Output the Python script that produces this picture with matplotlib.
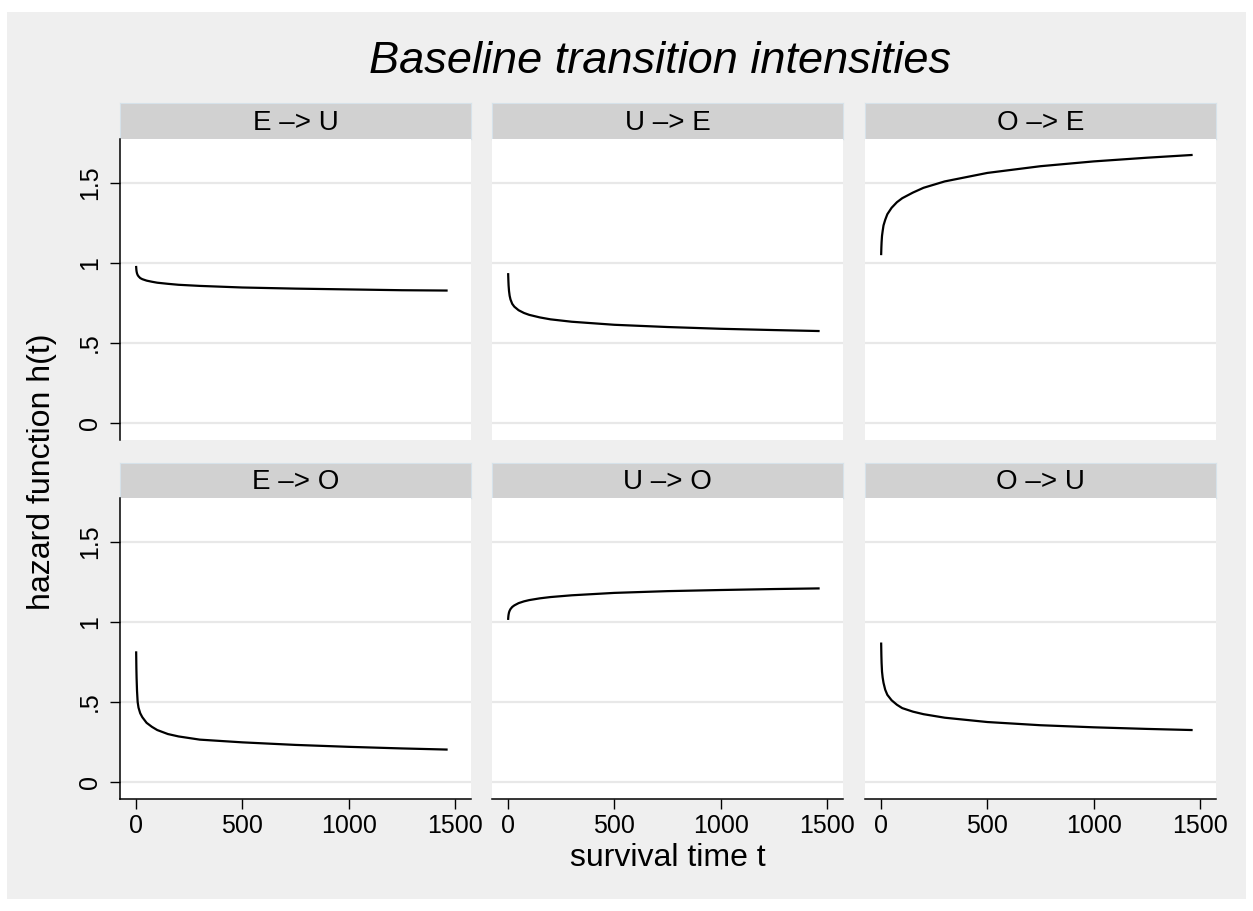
import matplotlib
matplotlib.use('Agg')
import matplotlib.pyplot as plt
from matplotlib.patches import Rectangle

plt.rcParams['font.family'] = ['Liberation Sans', 'DejaVu Sans']

# values
t_values = [1, 2, 3, 5, 8, 12, 20, 30, 50, 75, 100, 150, 200, 300, 500, 750, 1000, 1250, 1460]

h_e_u = [0.975, 0.957, 0.947, 0.935, 0.925, 0.917, 0.906, 0.899, 0.89, 0.883, 0.877, 0.870,
         0.864, 0.857, 0.847, 0.840, 0.835, 0.830, 0.828]
h_u_e = [0.93, 0.89, 0.86, 0.825, 0.795, 0.772, 0.745, 0.727, 0.705, 0.688, 0.676, 0.660,
         0.648, 0.633, 0.614, 0.600, 0.589, 0.581, 0.575]
h_o_e = [1.056, 1.10, 1.13, 1.17, 1.20, 1.235, 1.27, 1.305, 1.345, 1.38, 1.405, 1.44,
         1.47, 1.51, 1.563, 1.605, 1.635, 1.658, 1.675]
h_e_o = [0.81, 0.71, 0.65, 0.57, 0.50, 0.465, 0.43, 0.405, 0.37, 0.345, 0.325, 0.30,
         0.285, 0.265, 0.248, 0.232, 0.22, 0.21, 0.203]
h_u_o = [1.02, 1.037, 1.047, 1.06, 1.071, 1.081, 1.094, 1.104, 1.118, 1.129, 1.137, 1.148,
         1.156, 1.167, 1.182, 1.193, 1.20, 1.206, 1.21]
h_o_u = [0.865, 0.79, 0.744, 0.69, 0.653, 0.62, 0.577, 0.545, 0.511, 0.483, 0.462, 0.44,
         0.424, 0.402, 0.375, 0.355, 0.342, 0.332, 0.325]

panel_names = ['E \u2013> U', 'U \u2013> E', 'O \u2013> E',
               'E \u2013> O', 'U \u2013> O', 'O \u2013> U']
panel_data = [h_e_u, h_u_e, h_o_e, h_e_o, h_u_o, h_o_u]

y_ticks = [0, 0.5, 1, 1.5]
y_tick_labels = ['0', '.5', '1', '1.5']
x_ticks = [0, 500, 1000, 1500]
x_tick_labels = ['0', '500', '1000', '1500']

W, H = 1253, 911
fig = plt.figure(figsize=(W / 100, H / 100), dpi=100)
fig.patch.set_facecolor('white')
fig.add_artist(Rectangle((7 / W, 1 - 899 / H), 1239 / W, 887 / H,
                         transform=fig.transFigure, facecolor='#efefef',
                         edgecolor='none', zorder=0))

lefts = [120, 492, 865]
pw = 351
rows = [(103, 139, 440), (463, 498, 799)]  # strip top, plot top, plot bottom

for i in range(6):
    r, c = divmod(i, 3)
    s_top, p_top, p_bot = rows[r]
    l = lefts[c]

    # strip
    sax = fig.add_axes([l / W, 1 - p_top / H, pw / W, (p_top - s_top) / H])
    sax.set_facecolor('#d1d1d1')
    for sp in sax.spines.values():
        sp.set_color('#d6e2ea')
        sp.set_linewidth(0.8)
    sax.set_xticks([])
    sax.set_yticks([])
    sax.text(0.5, 0.45, panel_names[i], ha='center', va='center',
             fontsize=20, transform=sax.transAxes)

    ax = fig.add_axes([l / W, 1 - p_bot / H, pw / W, (p_bot - p_top) / H])
    ax.set_facecolor('white')
    ax.set_xlim(-75, 1575)
    ax.set_ylim(-0.106, 1.775)
    for yv in y_ticks:
        ax.axhline(yv, color='#e8e8e8', lw=1.6, zorder=1)
    ax.plot(t_values, panel_data[i], color='black', lw=1.6, zorder=3)

    for sp in ['top', 'right']:
        ax.spines[sp].set_visible(False)
    ax.spines['left'].set_visible(c == 0)
    ax.spines['bottom'].set_visible(r == 1)
    ax.spines['left'].set_linewidth(1.1)
    ax.spines['bottom'].set_linewidth(1.1)

    if c == 0:
        ax.set_yticks(y_ticks)
        ax.set_yticklabels(y_tick_labels, fontsize=18, rotation=90, va='center')
        ax.tick_params(axis='y', length=7, width=1, pad=6)
    else:
        ax.set_yticks([])
    if r == 1:
        ax.set_xticks(x_ticks)
        ax.set_xticklabels(x_tick_labels, fontsize=18)
        ax.tick_params(axis='x', length=7, width=1, pad=4)
    else:
        ax.set_xticks([])

fig.text(660 / W, 1 - 73 / H, 'Baseline transition intensities',
         ha='center', va='baseline', fontsize=32.5, style='italic')
fig.text(42 / W, 1 - 472 / H, 'hazard function h(t)', ha='center', va='center',
         rotation=90, fontsize=23)
fig.text(668 / W, 1 - 858 / H, 'survival time t', ha='center', va='center',
         fontsize=23)

fig.savefig('out.png', dpi=100, facecolor=fig.get_facecolor())
